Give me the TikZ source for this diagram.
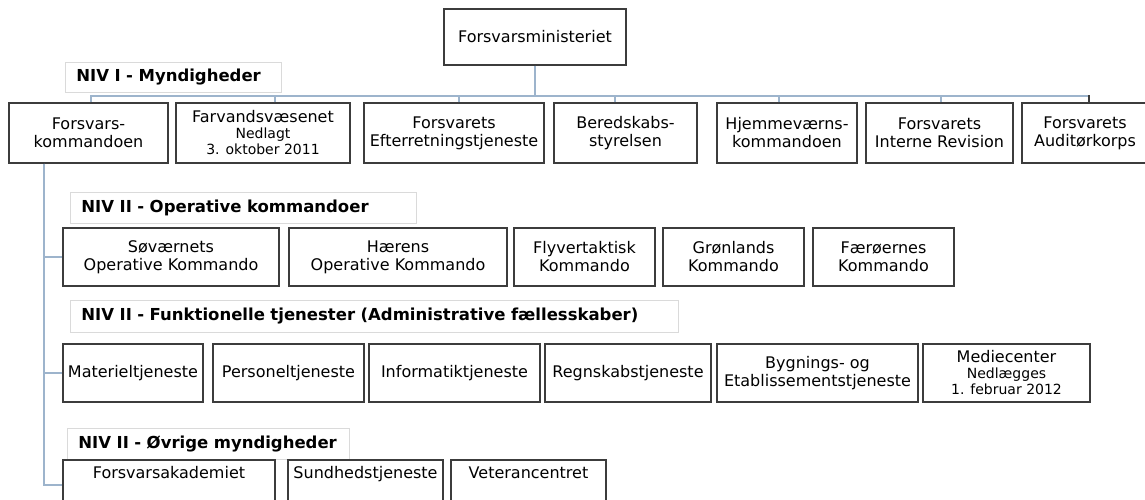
\documentclass[tikz,border=0pt]{standalone}
\usepackage{fontspec}
\setmainfont{DejaVu Sans}
\definecolor{conncol}{HTML}{9DB4CC}
\definecolor{boxcol}{HTML}{3C3C3C}
\definecolor{labcol}{HTML}{DADADA}
\tikzset{
  orgbox/.style={draw=boxcol, line width=1.2pt, fill=white, align=center, inner sep=1pt,
    font=\fontsize{16}{18}\selectfont},
  lowbox/.style={orgbox, text height=6pt, text depth=20pt},
  labbox/.style={draw=labcol, line width=0.8pt, fill=white, align=left, inner ysep=1pt, inner xsep=11pt,
    font=\fontsize{16.5}{18}\selectfont\bfseries, anchor=west},
  conn/.style={draw=conncol, line width=1.5pt},
  darkconn/.style={draw=boxcol, line width=1.3pt}
}
\newcommand{\smalltxt}{\fontsize{14}{16}\selectfont}
\begin{document}
\begin{tikzpicture}[x=1pt,y=-1pt]
\clip (0,0) rectangle (1145,499);
\fill[white] (0,0) rectangle (1145,499);

% top
\node[orgbox, minimum width=182, minimum height=56] (fmin) at (535,37) {Forsvarsministeriet};

% labels
\node[labbox, minimum height=30, text width=194] (n1) at (65,77) {NIV I - Myndigheder};
\node[labbox, minimum height=31, text width=324] (n2) at (70,207.5) {NIV II - Operative kommandoer};
\node[labbox, minimum height=32, text width=586] (n3) at (70,316) {NIV II - Funktionelle tjenester (Administrative fællesskaber)};
\node[labbox, minimum height=31, text width=260] (n4) at (67,443.5) {NIV II - Øvrige myndigheder};

% level 1
\node[orgbox, minimum width=159, minimum height=60] (fk) at (88.5,133) {Forsvars-\\kommandoen};
\node[orgbox, minimum width=174, minimum height=60] (fv) at (263,133) {Farvandsvæsenet\\[-2pt]{\smalltxt Nedlagt}\\[-2pt]{\smalltxt 3. oktober 2011}};
\node[orgbox, minimum width=180, minimum height=60] (fe) at (454,133) {Forsvarets\\Efterretningstjeneste};
\node[orgbox, minimum width=143, minimum height=60] (bs) at (625.5,133) {Beredskabs-\\styrelsen};
\node[orgbox, minimum width=140, minimum height=60] (hk) at (787,133) {Hjemmeværns-\\kommandoen};
\node[orgbox, minimum width=147, minimum height=60] (fir) at (939.5,133) {Forsvarets\\Interne Revision};
\node[orgbox, minimum width=126, minimum height=60] (fak) at (1085,133) {Forsvarets\\Auditørkorps};

% level 2 operative
\node[orgbox, minimum width=216, minimum height=58] (sv) at (171,257) {Søværnets\\Operative Kommando};
\node[orgbox, minimum width=218, minimum height=58] (hae) at (398,257) {Hærens\\Operative Kommando};
\node[orgbox, minimum width=141, minimum height=58] (fly) at (584.5,257) {Flyvertaktisk\\Kommando};
\node[orgbox, minimum width=141, minimum height=58] (gro) at (733.5,257) {Grønlands\\Kommando};
\node[orgbox, minimum width=141, minimum height=58] (fae) at (883.5,257) {Færøernes\\Kommando};

% level 2 functional
\node[orgbox, minimum width=140, minimum height=58] (mat) at (133,373) {Materieltjeneste};
\node[orgbox, minimum width=151, minimum height=58] (per) at (288.5,373) {Personeltjeneste};
\node[orgbox, minimum width=171, minimum height=58] (inf) at (454.5,373) {Informatiktjeneste};
\node[orgbox, minimum width=166, minimum height=58] (reg) at (628,373) {Regnskabstjeneste};
\node[orgbox, minimum width=201, minimum height=58] (byg) at (817.5,373) {Bygnings- og\\Etablissementstjeneste};
\node[orgbox, minimum width=167, minimum height=58] (med) at (1006.5,373) {Mediecenter\\[-2pt]{\smalltxt Nedlægges}\\[-2pt]{\smalltxt 1. februar 2012}};

% level 2 other
\node[lowbox, minimum width=212, minimum height=50] (fa) at (169,485) {Forsvarsakademiet};
\node[lowbox, minimum width=155, minimum height=50] (sun) at (365.5,485) {Sundhedstjeneste};
\node[lowbox, minimum width=155, minimum height=50] (vet) at (528.5,485) {Veterancentret};

% connectors
\coordinate (bus) at (535,96);
\draw[conn] (fmin.south) -- (bus);
\draw[conn] ([xshift=2.5pt]fk.north) |- (bus);
\draw[conn] ([xshift=12pt]fv.north) |- (bus);
\draw[conn] ([xshift=5pt]fe.north) |- (bus);
\draw[conn] ([xshift=-10.5pt]bs.north) |- (bus);
\draw[conn] ([xshift=-8pt]hk.north) |- (bus);
\draw[conn] ([xshift=1.5pt]fir.north) |- (bus);
\draw[conn] ([xshift=4pt]fak.north) |- (bus);
\draw[darkconn] ([xshift=4pt]fak.north) -- ++(0,-7);

\draw[conn] ([xshift=-44.5pt]fk.south) |- (sv.west);
\draw[conn] ([xshift=-44.5pt]fk.south) |- (mat.west);
\draw[conn] ([xshift=-44.5pt]fk.south) |- (fa.west);
\end{tikzpicture}
\end{document}
